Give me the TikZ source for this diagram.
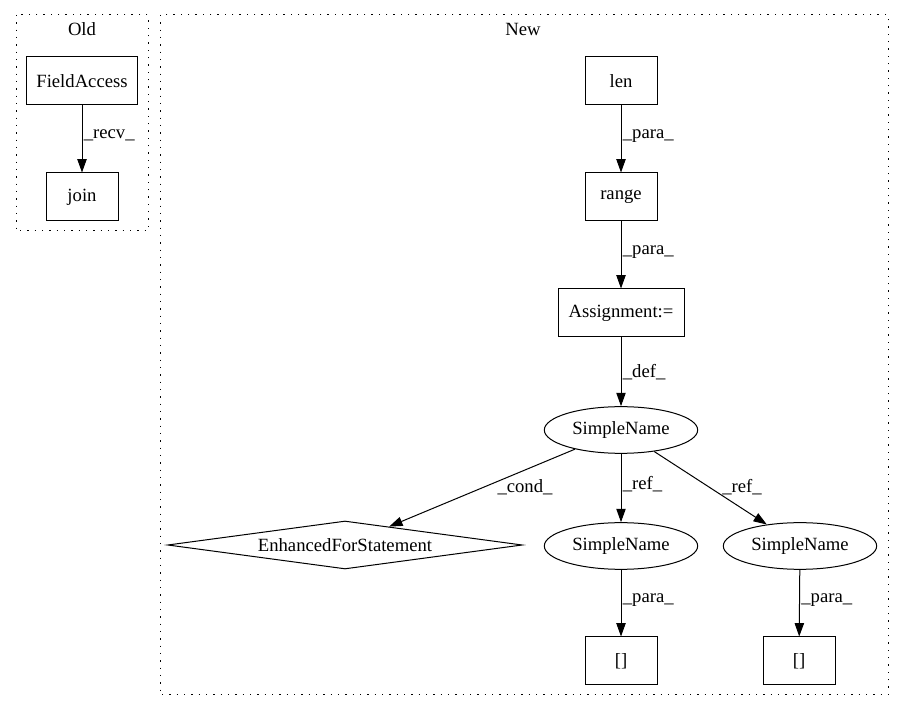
\documentclass[tikz,border=0pt]{standalone}
\usepackage{fontspec}
\setmainfont{Liberation Serif}
\usetikzlibrary{shapes.geometric,arrows.meta}
\begin{document}
\begin{tikzpicture}[x=0.75pt,y=-0.75pt,
  every node/.style={font=\fontsize{14}{16}\selectfont, inner sep=0pt},
  box/.style={draw, rectangle, line width=0.75pt, minimum height=36pt, minimum width=54pt},
  ell/.style={draw, ellipse, line width=0.75pt, minimum height=35pt, minimum width=115pt},
  dia/.style={draw, diamond, aspect=7.39, line width=0.75pt, minimum height=36pt, minimum width=266pt},
  cluster/.style={draw, line width=0.75pt, dash pattern=on 1pt off 4.5pt},
  edge/.style={line width=0.75pt, -{Triangle[length=10pt,width=7pt]}},
  lbl/.style={font=\fontsize{14}{16}\selectfont}
]
\useasboundingbox (0,0) rectangle (904,712);
% clusters
\draw[cluster] (16,15) rectangle (148,231);
\node (oldlbl) at (82,29) {Old};
\draw[cluster] (160,15) rectangle (888,695);
\node (newlbl) at (523,29) {New};

% Old
\node[box, minimum width=83pt] (fa) at (82,81) {FieldAccess};
\node[box] (join) at (82,197) {join};
\draw[edge] (fa) -- (join) node[lbl, pos=0.45, right=1pt] {\_recv\_};

% New
\node[box] (len) at (621,81) {len};
\node[box] (range) at (621,197) {range};
\node[box, minimum width=94.5pt] (assign) at (621,313) {Assignment:=};
\node[ell] (sn) at (621,430) {SimpleName};
\node[dia] (efs) at (345,545) {EnhancedForStatement};
\node[ell] (sn2) at (621,546) {SimpleName};
\node[ell] (sn3) at (800,546) {SimpleName};
\node[box] (b1) at (621,661) {[]};
\node[box] (b2) at (799,661) {[]};

\draw[edge] (len) -- (range) node[lbl, pos=0.45, right=1pt] {\_para\_};
\draw[edge] (range) -- (assign) node[lbl, pos=0.45, right=1pt] {\_para\_};
\draw[edge] (assign) -- (sn) node[lbl, pos=0.5, right=1pt] {\_def\_};
\draw[edge] (sn) -- (efs);
\node[lbl] (condl) at (525,487) {\_cond\_};
\draw[edge] (sn) -- (sn2) node[lbl, pos=0.45, right=1pt] {\_ref\_};
\draw[edge] (sn) -- (sn3);
\node[lbl] (refl) at (742,487) {\_ref\_};
\draw[edge] (sn2) -- (b1) node[lbl, pos=0.45, right=1pt] {\_para\_};
\draw[edge] (sn3) -- (b2) node[lbl, pos=0.45, right=1pt] {\_para\_};
\end{tikzpicture}
\end{document}
